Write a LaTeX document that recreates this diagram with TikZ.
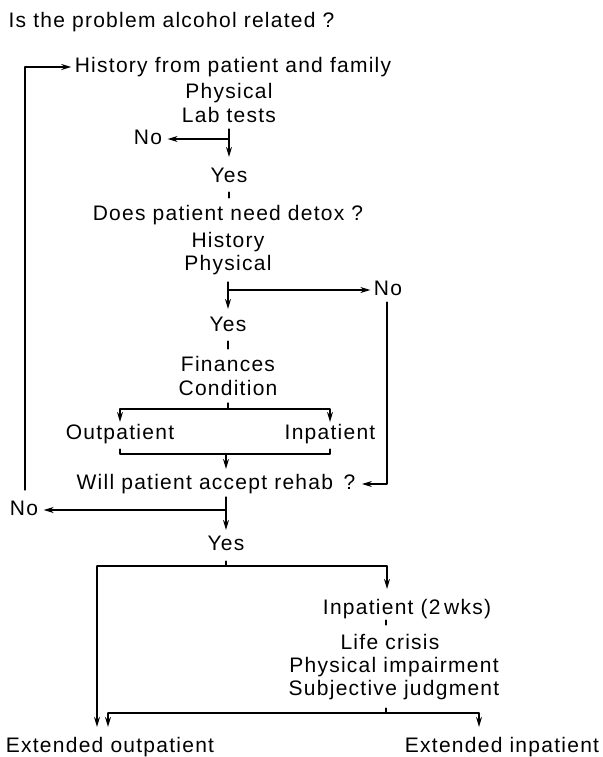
\documentclass[tikz,border=0pt]{standalone}
\usepackage{fontspec}
\setmainfont{Liberation Sans}[LetterSpace=6]
\usetikzlibrary{arrows.meta}
\tikzset{lbl/.style={inner sep=0pt,text height=15pt,text depth=4pt}}
\begin{document}
\begin{tikzpicture}[>={Stealth[length=10pt,width=6pt]},line join=round,line cap=round,line width=1.2pt,x=1pt,y=-1pt,font=\fontsize{21}{24}\selectfont]
\useasboundingbox (0,0) rectangle (602,757);
% text
\node[lbl,anchor=west] (ask) at (8,22) {Is the problem alcohol related ?};
\node[lbl] (hist) at (233,67) {History from patient and family};
\node[lbl] (phys) at (229,93) {Physical};
\node[lbl] (lab) at (229,117) {Lab tests};
\node[lbl] (noA) at (148,139) {No};
\node[lbl] (yesA) at (229,177) {Yes};
\node[lbl] (detox) at (228,215) {Does patient need detox ?};
\node[lbl] (histB) at (228,242) {History};
\node[lbl] (physB) at (228,265) {Physical};
\node[lbl] (noB) at (388,290) {No};
\node[lbl] (yesB) at (228,326) {Yes};
\node[lbl] (fin) at (228,366) {Finances};
\node[lbl] (cond) at (228,390) {Condition};
\node[lbl] (outp) at (120,434) {Outpatient};
\node[lbl] (inp) at (330,434) {Inpatient};
\node[lbl] (rehab) at (216,484) {Will patient accept rehab\, ?};
\node[lbl] (noC) at (24,510) {No};
\node[lbl] (yesC) at (226,545) {Yes};
\node[lbl] (inpB) at (407,609) {Inpatient (2\,wks)};
\node[lbl] (life) at (390,644) {Life crisis};
\node[lbl] (imp) at (394,667) {Physical impairment};
\node[lbl] (subj) at (394,690) {Subjective judgment};
\node[lbl] (extout) at (110,747) {Extended outpatient};
\node[lbl] (extin) at (502,747) {Extended inpatient};
% junctions
\coordinate (jA) at (229,129);
\coordinate (jB) at (228,282);
\coordinate (jC) at (228,403);
\coordinate (barC) at (228,409);
\coordinate (barD) at (226,454);
\coordinate (jE) at (226,497);
\coordinate (barF) at (226,566);
\coordinate (leftF) at (97,566);
\coordinate (rightF) at (387,566);
\coordinate (barG) at (386,713);
\coordinate (leftG) at (108,713);
\coordinate (rightG) at (479,713);
\coordinate (loop) at (25,490);
% connectors
\draw[->] (loop) |- ([xshift=-3pt]hist.west);
\draw[->] (jA) -- ([yshift=10pt]yesA.north);
\draw[->] (jA |- noA) -- ([xshift=5pt]noA.east);
\draw[shorten <=5pt,shorten >=7pt] (yesA.south) -- (yesA.south |- detox.north);
\draw[->] (jB) -- ([yshift=7pt]yesB.north);
\draw[->] (jB |- noB) -- ([xshift=-3pt]noB.west);
\draw[->] ([yshift=-2pt]noB.south -| rightF) |- ([xshift=6pt]rehab.east);
\draw[shorten <=5pt,shorten >=7pt] (yesB.south) -- (yesB.south |- fin.north);
\draw (jC) -- (barC);
\draw[->] (barC) -| ([yshift=2pt]outp.north);
\draw[->] (barC) -| ([yshift=2pt]inp.north);
\draw ([yshift=-5pt]outp.south) |- (barD) -| ([yshift=-5pt]inp.south);
\draw[->] (barD) -- ([yshift=5pt]barD |- rehab.north);
\draw[->] (jE) -- ([yshift=5pt]yesC.north);
\draw[->] (jE |- noC) -- ([xshift=5pt]noC.east);
\draw ([yshift=-6pt]yesC.south) -- (barF);
\draw (leftF) -- (rightF);
\draw[->] (leftF) -- ([yshift=10pt]leftF |- extout.north);
\draw[->] (rightF) -- ([yshift=10pt]rightF |- inpB.north);
\draw[shorten <=1pt,shorten >=9pt] (inpB.south -| barG) -- (barG |- life.north);
\draw ([yshift=-8pt]subj.south -| barG) -- (barG);
\draw (leftG) -- (rightG);
\draw[->] (leftG) -- ([yshift=10pt]leftG |- extout.north);
\draw[->] (rightG) -- ([yshift=10pt]rightG |- extin.north);
\end{tikzpicture}
\end{document}
